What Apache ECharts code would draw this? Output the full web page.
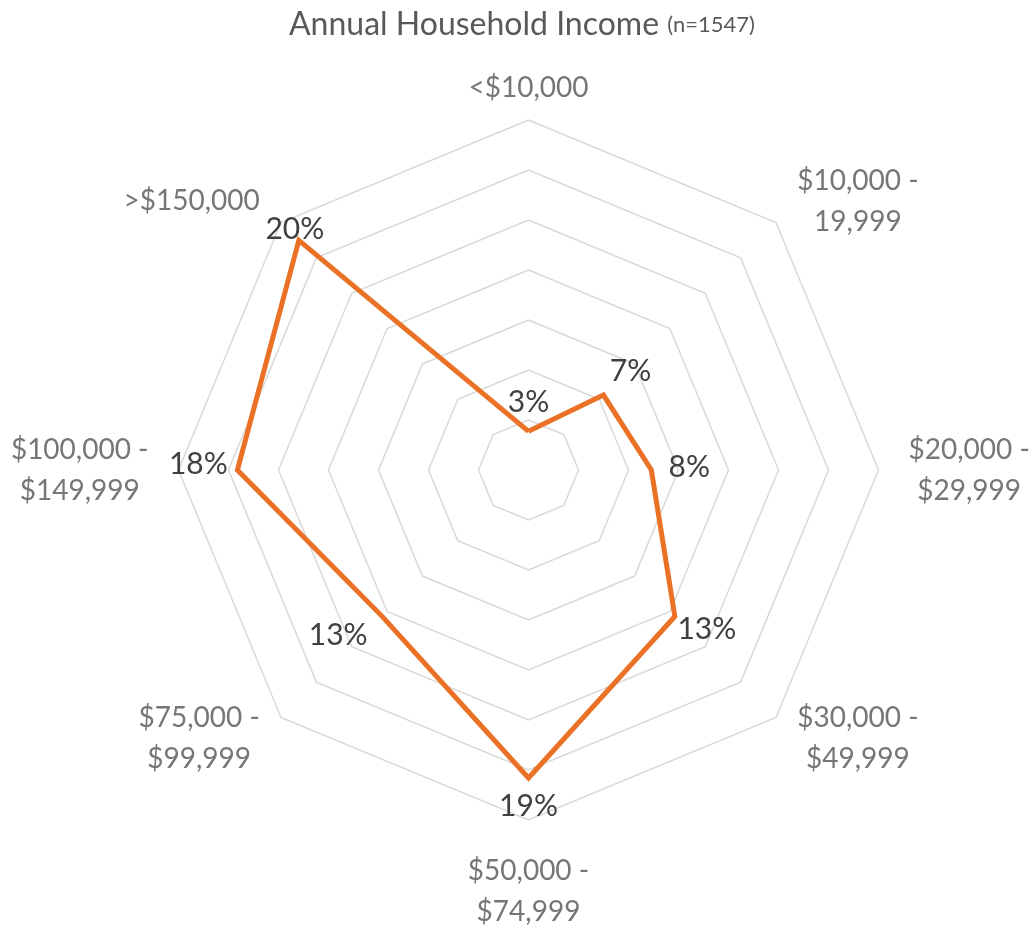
<!DOCTYPE html>
<html>
<head>
<meta charset="utf-8">
<title>Annual Household Income</title>
<script src="https://cdn.jsdelivr.net/npm/echarts@6/dist/echarts.min.js"></script>
<style>
  html, body { margin: 0; padding: 0; background: #ffffff; }
  #chart { width: 1034px; height: 926px; }
</style>
</head>
<body>
<div id="chart"></div>
<script>
// Income brackets, clockwise from the top
const categories = [
  '<$10,000',
  '$10,000 -\n19,999',
  '$20,000 -\n$29,999',
  '$30,000 -\n$49,999',
  '$50,000 -\n$74,999',
  '$75,000 -\n$99,999',
  '$100,000 -\n$149,999',
  '>$150,000'
];
// Share of respondents in each bracket (%)
const shares = [3, 7, 8, 13, 19, 13, 18, 20];

const titleMain = 'Annual Household Income';
const titleNote = '(n=1547)';

// Radial scale of the web
const scaleMin = 0.7;
const scaleMax = 21.5;
const rings = 7;

// Where each value label sits relative to its point (px)
const labelOffsets = [
  [0, -29], [27, -24], [38, -3], [32, 13],
  [0, 28], [-44, 19], [-39, -6], [-4, -11]
];

const FONT = 'Lato, "Open Sans", sans-serif';

// ECharts lays radar indicators out counter-clockwise, so walk the
// brackets in reverse after the first to get a clockwise web.
const order = [0].concat(categories.map((_, i) => i).slice(1).reverse());
const radarNames = order.map(i => categories[i]);
const radarValues = order.map(i => shares[i]);

const chart = echarts.init(document.getElementById('chart'), null, { renderer: 'canvas' });

const labelSeries = order.map((catIdx, dim) => ({
  type: 'radar',
  silent: true,
  z: 5,
  symbol: 'circle',
  symbolSize: 2,
  itemStyle: { color: 'rgba(0,0,0,0)' },
  lineStyle: { width: 0, opacity: 0 },
  emphasis: { disabled: true },
  data: [{ value: radarValues }],
  label: {
    show: true,
    position: 'inside',
    offset: labelOffsets[catIdx],
    fontFamily: FONT,
    fontSize: 30,
    color: '#404040',
    formatter: p => (p.dimensionIndex === dim ? p.value + '%' : '')
  }
}));

chart.setOption({
  animation: false,
  backgroundColor: '#ffffff',
  title: {
    left: 284,
    top: 0,
    text: '{a|' + titleMain + ' }{b|' + titleNote + '}',
    textStyle: {
      fontWeight: 'normal',
      rich: {
        a: { fontFamily: FONT, fontSize: 32, fontWeight: 'normal', color: '#595959', lineHeight: 40 },
        b: { fontFamily: FONT, fontSize: 22, fontWeight: 'normal', color: '#595959', lineHeight: 40 }
      }
    }
  },
  radar: {
    center: [528.5, 470],
    radius: 350,
    startAngle: 90,
    shape: 'polygon',
    splitNumber: rings,
    indicator: radarNames.map(n => ({ name: n, min: scaleMin, max: scaleMax })),
    axisNameGap: 30,
    axisName: {
      color: '#767676',
      fontFamily: FONT,
      fontSize: 28,
      formatter: name => {
        const lines = name.split('\n');
        const key = lines.length > 1 ? 'm' : 's';
        return lines.map(l => '{' + key + '|' + l + '}').join('\n');
      },
      rich: {
        m: { fontFamily: FONT, fontSize: 28, color: '#767676', lineHeight: 41, align: 'center' },
        s: { fontFamily: FONT, fontSize: 28, color: '#767676', lineHeight: 4, align: 'center' }
      }
    },
    axisLine: { show: false },
    axisTick: { show: false },
    axisLabel: { show: false },
    splitArea: { show: false },
    splitLine: { lineStyle: { color: '#d9d9d9', width: 1.5 } }
  },
  series: [{
    type: 'radar',
    z: 3,
    symbol: 'none',
    silent: true,
    lineStyle: { color: '#EA7125', width: 5, join: 'miter' },
    emphasis: { disabled: true },
    data: [{ value: radarValues, name: 'Share' }]
  }].concat(labelSeries)
});
</script>
</body>
</html>
